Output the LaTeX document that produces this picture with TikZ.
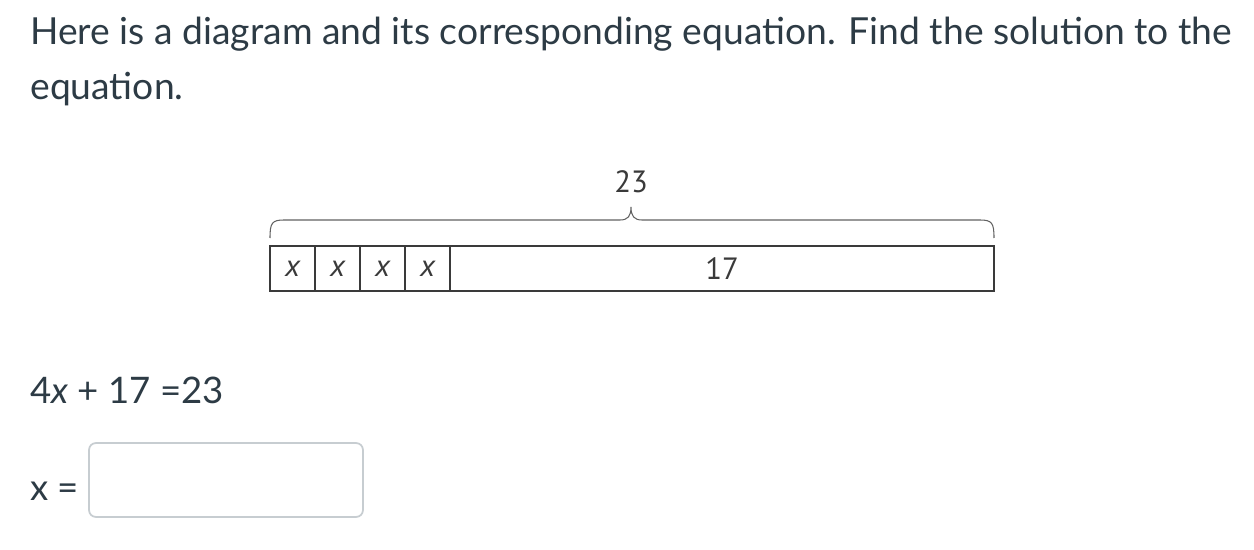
\documentclass[tikz,border=0pt]{standalone}
\usepackage{fontspec}
\setmainfont{Lato}
\newfontfamily\tapefont{PT Sans}
\usetikzlibrary{calc}
\definecolor{pagetext}{HTML}{2D3B45}
\definecolor{tapeline}{HTML}{3A3A3A}
\definecolor{boxline}{HTML}{C7CDD1}
\tikzset{
  prose/.style={anchor=base west, inner sep=0, text=pagetext, font=\fontsize{21.2}{26}\selectfont},
  tapelabel/.style={inner sep=0, text=tapeline, font=\tapefont\fontsize{17.5}{20}\selectfont}
}

\begin{document}
\begin{tikzpicture}[x=0.02cm, y=-0.02cm]
\useasboundingbox (0,0) rectangle (1254,550);
\node[prose] (ask1) at (30,45) {Here is a diagram and its corresponding equation. Find the solution to the};
\node[prose] (ask2) at (30,100) {equation.};
% tape diagram
\draw[tapeline, line width=1.1pt] (270,246) rectangle (994,291);
\foreach \k in {1,2,3,4} {
  \draw[tapeline, line width=.7pt] (270+45*\k,246)--++(0,45);
  \node[tapelabel] (cell\k) at (247.5+45*\k,268.5) {\itshape x};
}
\node[tapelabel] (rest) at (722,268.5) {17};
\draw[tapeline!80, line width=.6pt] (270,238) .. controls (270,223) and (272,220) .. (284,220)
  -- (620,220) .. controls (628,220) and (631,216) .. (631,207)
  .. controls (631,216) and (634,220) .. (642,220) -- (980,220)
  .. controls (992,220) and (994,223) .. (994,238);
\node[tapelabel] (total) at (631,182) {23};
% equation and answer
\node[prose, font=\fontsize{20.8}{25}\selectfont] (eqn) at (30,403) {4\textit{x} + 17 =23};
\node[prose, font=\fontsize{20.8}{25}\selectfont] (ans) at (30,500) {x =};
\draw[boxline, line width=1pt, rounded corners=4] (89,443) rectangle (363,517);
\end{tikzpicture}
\end{document}
